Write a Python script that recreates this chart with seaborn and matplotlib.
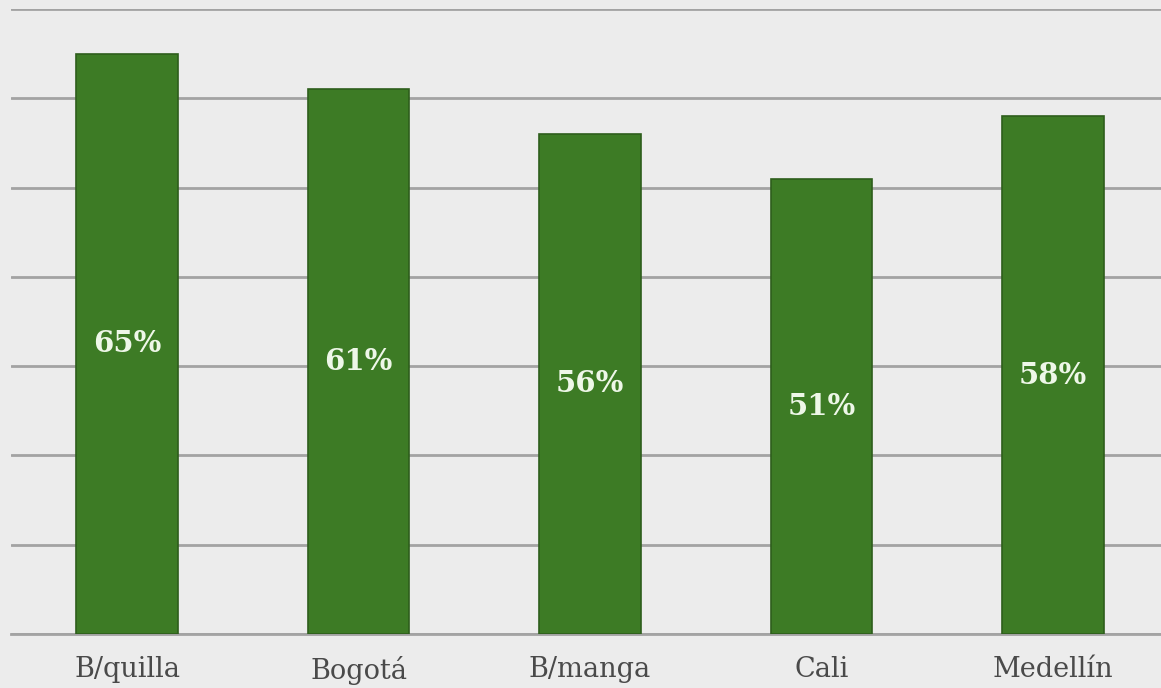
import matplotlib
matplotlib.use("Agg")
import matplotlib.pyplot as plt
import seaborn as sns
import pandas as pd

# Share by city
cities = ["B/quilla", "Bogotá", "B/manga", "Cali", "Medellín"]
shares = [65, 61, 56, 51, 58]
value_labels = ["65%", "61%", "56%", "51%", "58%"]
y_ticks = [0, 10, 20, 30, 40, 50, 60, 70]

bg = "#ececec"
bar_color = "#3d7b25"
edge_color = "#2e5e1c"
grid_color = "#a3a3a3"

sns.set_theme(style="white")
plt.rcParams["font.family"] = ["DejaVu Serif"]

df = pd.DataFrame({"city": cities, "share": shares})

fig = plt.figure(figsize=(11.61, 6.88), dpi=100, facecolor=bg)
ax = fig.add_axes([11.25 / 1161, 54 / 688, 1157.5 / 1161, 625 / 688])
ax.set_facecolor(bg)

sns.barplot(data=df, x="city", y="share", color=bar_color, width=0.44,
            saturation=1, edgecolor=edge_color, linewidth=1.2, ax=ax, zorder=3)

ax.set_xlim(-0.5, 4.5)
ax.set_ylim(0, 70)
ax.set_yticks(y_ticks)
ax.set_yticklabels([])
ax.tick_params(axis="y", length=0)
ax.tick_params(axis="x", length=0, pad=16, labelsize=19.5, labelcolor="#4a4a4a")
ax.yaxis.grid(True, color=grid_color, linewidth=2.0, zorder=1)
ax.set_axisbelow(True)
for s in ["top", "right", "left"]:
    ax.spines[s].set_visible(False)
ax.spines["bottom"].set_color(grid_color)
ax.spines["bottom"].set_linewidth(2.0)
ax.set_xlabel("")
ax.set_ylabel("")

for i, (v, lab) in enumerate(zip(shares, value_labels)):
    ax.text(i, v / 2, lab, ha="center", va="center", color="#eef7e8",
            fontsize=21, fontweight="semibold", zorder=4)

fig.savefig("out.png", dpi=100, facecolor=bg)
